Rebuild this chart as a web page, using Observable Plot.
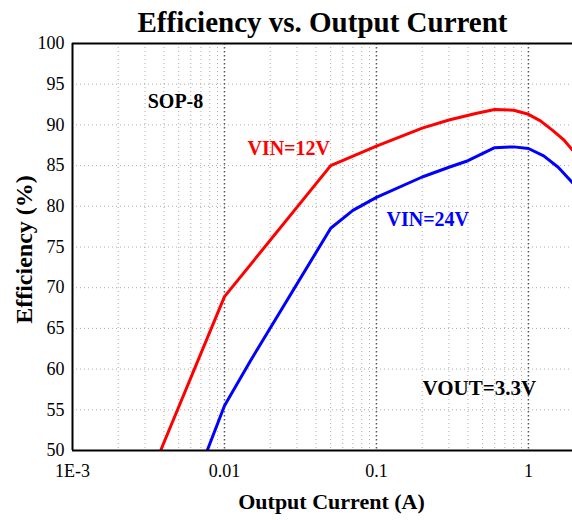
<!DOCTYPE html>
<html>
<head>
<meta charset="utf-8">
<script src="https://cdn.jsdelivr.net/npm/d3@7"></script>
<script src="https://cdn.jsdelivr.net/npm/@observablehq/plot@0.6"></script>
<style>
  html, body { margin: 0; padding: 0; background: #fff; }
</style>
</head>
<body>
<div id="chart"></div>
<script>
// Data
const title = "Efficiency vs. Output Current";
const xLabel = "Output Current (A)";
const yLabel = "Efficiency (%)";

const vin12Current = [0.0038, 0.01, 0.05, 0.1, 0.2, 0.3, 0.45, 0.6, 0.8, 1.0, 1.2, 1.45, 1.7, 1.95];
const vin12Eff     = [50.0, 68.9, 85.0, 87.4, 89.6, 90.6, 91.4, 91.9, 91.8, 91.3, 90.5, 89.3, 88.2, 86.9];

const vin24Current = [0.0077, 0.01, 0.0148, 0.05, 0.07, 0.1, 0.2, 0.3, 0.4, 0.6, 0.8, 1.0, 1.26, 1.57, 1.95];
const vin24Eff     = [50.0, 55.5, 61.0, 77.3, 79.5, 81.1, 83.6, 84.8, 85.6, 87.2, 87.3, 87.1, 86.2, 84.8, 82.9];

const xTicks = [0.001, 0.01, 0.1, 1];
const xTickLabels = ["1E-3", "0.01", "0.1", "1"];
const yTicks = [50, 55, 60, 65, 70, 75, 80, 85, 90, 95, 100];
const yGrid = [55, 60, 65, 70, 75, 80, 85, 90, 95];
const xMajorGrid = [0.01, 0.1, 1];
const xMinorGrid = [2,3,4,5,6,7,8,9].flatMap(m => [0.001*m, 0.01*m, 0.1*m]).filter(v => v < 1.95);

// annotations (label, current, efficiency)
const sopLabel = {text: "SOP-8", x: 0.00476, y: 92.9};
const vin12Label = {text: "VIN=12V", x: 0.01416, y: 87.1};
const vin24Label = {text: "VIN=24V", x: 0.1164, y: 78.4};
const voutLabel = {text: "VOUT=3.3V", x: 0.201, y: 57.7};

const series = [
  ...vin12Current.map((c, i) => ({current: c, eff: vin12Eff[i], s: "VIN=12V"})),
  ...vin24Current.map((c, i) => ({current: c, eff: vin24Eff[i], s: "VIN=24V"}))
];
const xLabelMap = new Map(xTicks.map((t, i) => [t, xTickLabels[i]]));

const serif = "'Liberation Serif', 'Times New Roman', serif";

const chart = Plot.plot({
  width: 572,
  height: 520,
  marginLeft: 72,
  marginRight: 0,
  marginTop: 43,
  marginBottom: 70,
  style: {fontFamily: serif, fontSize: "18px", background: "#fff", color: "#000"},
  x: {type: "log", domain: [0.001, 1.95]},
  y: {domain: [50, 100]},
  color: {domain: ["VIN=12V", "VIN=24V"], range: ["#ff0000", "#0000ff"]},
  marks: [
    Plot.ruleX(xMinorGrid, {stroke: "#aaa", strokeWidth: 1, strokeDasharray: "1,3"}),
    Plot.ruleY(yGrid, {stroke: "#aaa", strokeWidth: 1, strokeDasharray: "1,3"}),
    Plot.ruleX(xMajorGrid, {stroke: "#555", strokeWidth: 1.5, strokeDasharray: "1.5,2.5"}),
    Plot.line(series, {x: "current", y: "eff", z: "s", stroke: "s", strokeWidth: 3, clip: true}),
    Plot.ruleX([0.001], {stroke: "#000", strokeWidth: 2}),
    Plot.ruleY([50, 100], {stroke: "#000", strokeWidth: 2}),
    Plot.axisX({ticks: xTicks, tickFormat: d => xLabelMap.get(d), tickSize: 0, tickPadding: 14, label: null, fontSize: 18}),
    Plot.axisY({ticks: yTicks, tickSize: 0, tickPadding: 8, label: null, fontSize: 18}),
    Plot.text([sopLabel], {x: "x", y: "y", text: "text", textAnchor: "middle", fill: "#000", fontSize: 20, fontWeight: "bold"}),
    Plot.text([vin12Label], {x: "x", y: "y", text: "text", textAnchor: "start", fill: "#ff0000", fontSize: 20, fontWeight: "bold"}),
    Plot.text([vin24Label], {x: "x", y: "y", text: "text", textAnchor: "start", fill: "#0000ff", fontSize: 20, fontWeight: "bold"}),
    Plot.text([voutLabel], {x: "x", y: "y", text: "text", textAnchor: "start", fill: "#000", fontSize: 21, fontWeight: "bold"}),
    Plot.text([title], {frameAnchor: "top", lineAnchor: "middle", textAnchor: "middle", dy: -21, fontSize: 29, fontWeight: "bold"}),
    Plot.text([yLabel], {frameAnchor: "left", lineAnchor: "middle", textAnchor: "middle", rotate: -90, dx: -48, dy: 2.5, fontSize: 24, fontWeight: "bold"}),
    Plot.text([xLabel], {frameAnchor: "bottom", lineAnchor: "middle", textAnchor: "middle", dy: 51, dx: 9, fontSize: 22, fontWeight: "bold"})
  ]
});
document.getElementById("chart").appendChild(chart);
</script>
</body>
</html>
